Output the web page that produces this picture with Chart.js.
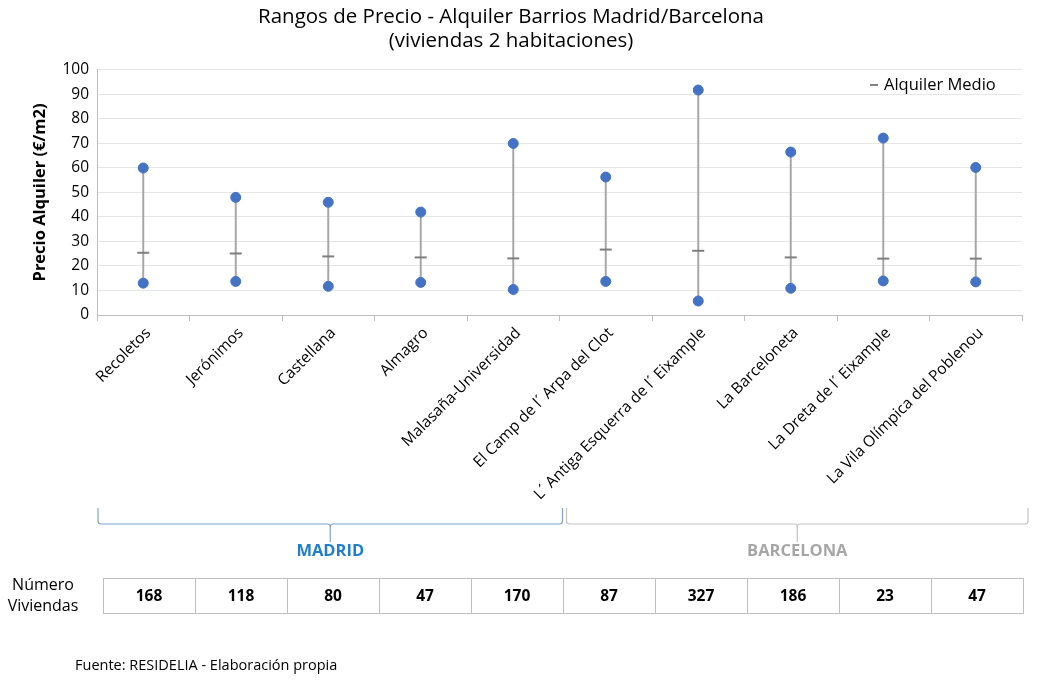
<!DOCTYPE html>
<html lang="es">
<head>
<meta charset="utf-8">
<script src="https://cdn.jsdelivr.net/npm/chart.js@4.4.1/dist/chart.umd.min.js"></script>
<style>
  html, body { margin: 0; padding: 0; background: #fff; }
  #wrap { width: 1038px; height: 682px; }
</style>
</head>
<body>
<div id="wrap"><canvas id="chart" width="1038" height="682"></canvas></div>
<script>
'use strict';

const barrios = ['Recoletos', 'Jerónimos', 'Castellana', 'Almagro', 'Malasaña-Universidad',
  'El Camp de l´ Arpa del Clot', 'L´ Antiga Esquerra de l´ Eixample', 'La Barceloneta',
  'La Dreta de l´ Eixample', 'La Vila Olímpica del Poblenou'];
const precioMax = [60, 48, 46, 42, 70, 56.3, 91.8, 66.5, 72.2, 60.2];
const precioMin = [13, 13.7, 11.7, 13.3, 10.4, 13.7, 5.7, 10.9, 13.9, 13.5];
const alquilerMedio = [25.4, 25.1, 23.9, 23.5, 23.1, 26.7, 26.2, 23.5, 23.0, 23.0];
const numViviendas = [168, 118, 80, 47, 170, 87, 327, 186, 23, 47];
const grupos = ['MADRID', 'BARCELONA'];
const grupoInicio = [0, 5];
const grupoFin = [4, 9];

const FONT = '"Open Sans", sans-serif';
const BLUE = '#4472c4';
const GREY = '#7f7f7f';

// legend, bracket, group names, table and source
const extras = {
  id: 'extras',
  afterDraw(chart) {
    const { ctx, chartArea } = chart;
    const x = chart.scales.x;
    const n = barrios.length;
    const step = (x.right - x.left) / n;
    const bracketCol = ['#7fa3d1', '#c4c4c4'];
    const textCol = ['#1f7fce', '#a6a6a6'];
    ctx.save();

    // legend (single entry)
    const ds = chart.data.datasets[3];
    ctx.strokeStyle = ds.pointBorderColor;
    ctx.lineWidth = 2;
    ctx.beginPath();
    ctx.moveTo(chartArea.right - 152, chartArea.top + 15);
    ctx.lineTo(chartArea.right - 144, chartArea.top + 15);
    ctx.stroke();
    ctx.fillStyle = '#000';
    ctx.font = '16.5px ' + FONT;
    ctx.textAlign = 'left';
    ctx.textBaseline = 'middle';
    ctx.fillText(ds.label, chartArea.right - 138, chartArea.top + 15);

    grupos.forEach((g, k) => {
      const x0 = x.left + step * grupoInicio[k] + (k ? 7 : 1);
      const x1 = x.left + step * (grupoFin[k] + 1) + (k ? 6 : 3);
      const xc = (x0 + x1) / 2;
      const yTop = 508, yBar = 524, yTip = 542, r = 3;
      ctx.strokeStyle = bracketCol[k];
      ctx.lineWidth = 1.2;
      ctx.beginPath();
      ctx.moveTo(x0, yTop);
      ctx.lineTo(x0, yBar - r);
      ctx.quadraticCurveTo(x0, yBar, x0 + r, yBar);
      ctx.lineTo(xc - r, yBar);
      ctx.quadraticCurveTo(xc, yBar, xc, yBar + r);
      ctx.lineTo(xc, yTip);
      ctx.moveTo(xc, yBar + r);
      ctx.quadraticCurveTo(xc, yBar, xc + r, yBar);
      ctx.lineTo(x1 - r, yBar);
      ctx.quadraticCurveTo(x1, yBar, x1, yBar - r);
      ctx.lineTo(x1, yTop);
      ctx.stroke();

      ctx.fillStyle = textCol[k];
      ctx.font = 'bold 16.5px ' + FONT;
      ctx.textAlign = 'center';
      ctx.textBaseline = 'middle';
      ctx.fillText(g, xc, 551);
    });

    // Número Viviendas table
    const tLeft = x.left + 6;
    const cellW = (x.right - x.left - 5) / n;
    const tTop = 578, tH = 35;
    ctx.strokeStyle = '#bfbfbf';
    ctx.lineWidth = 1;
    ctx.strokeRect(tLeft + 0.5, tTop + 0.5, cellW * n, tH);
    for (let i = 1; i < n; i++) {
      const cx = Math.round(tLeft + cellW * i) + 0.5;
      ctx.beginPath();
      ctx.moveTo(cx, tTop);
      ctx.lineTo(cx, tTop + tH);
      ctx.stroke();
    }
    ctx.fillStyle = '#000';
    ctx.font = 'bold 15.5px ' + FONT;
    ctx.textAlign = 'center';
    ctx.textBaseline = 'middle';
    numViviendas.forEach((v, i) => ctx.fillText(String(v), tLeft + cellW * (i + 0.5), tTop + tH / 2 + 1));

    ctx.font = '16px ' + FONT;
    ctx.fillText('Número', 43, 585);
    ctx.fillText('Viviendas', 43, 606);

    ctx.font = '14.5px ' + FONT;
    ctx.textAlign = 'left';
    ctx.fillText('Fuente: RESIDELIA - Elaboración propia', 75, 666);
    ctx.restore();
  }
};

new Chart(document.getElementById('chart'), {
  data: {
    labels: barrios,
    datasets: [
      {
        type: 'bar',
        label: 'Rango',
        data: barrios.map((_, i) => [precioMin[i], precioMax[i]]),
        backgroundColor: '#a6a6a6',
        barThickness: 1.3,
        order: 3,
      },
      {
        type: 'line',
        label: 'Máximo',
        data: precioMax,
        showLine: false,
        pointRadius: 5,
        pointBackgroundColor: BLUE,
        pointBorderColor: BLUE,
        order: 1,
      },
      {
        type: 'line',
        label: 'Mínimo',
        data: precioMin,
        showLine: false,
        pointRadius: 5,
        pointBackgroundColor: BLUE,
        pointBorderColor: BLUE,
        order: 1,
      },
      {
        type: 'line',
        label: 'Alquiler Medio',
        data: alquilerMedio,
        showLine: false,
        pointStyle: 'line',
        pointRadius: 6,
        pointBorderWidth: 2,
        pointBorderColor: GREY,
        borderColor: GREY,
        order: 2,
      },
    ],
  },
  options: {
    responsive: false,
    animation: false,
    layout: { padding: { top: 0, right: 16, bottom: 177, left: 0 } },
    plugins: {
      tooltip: { enabled: false },
      legend: { display: false },
      title: {
        display: true,
        text: ['Rangos de Precio - Alquiler Barrios Madrid/Barcelona', '(viviendas 2 habitaciones)'],
        color: '#000',
        font: { family: FONT, size: 20.5, weight: 'normal', lineHeight: 1.17 },
        padding: { top: 5, bottom: 17 },
      },
    },
    scales: {
      x: {
        type: 'category',
        offset: true,
        afterFit: s => { s.height = 190; },
        grid: { offset: true, drawOnChartArea: false, drawTicks: true, tickLength: 6, color: '#bfbfbf' },
        border: { color: '#bfbfbf' },
        ticks: {
          color: '#000',
          font: { family: FONT, size: 15.5 },
          minRotation: 45,
          maxRotation: 45,
          autoSkip: false,
          padding: 3,
          labelOffset: 5,
        },
      },
      y: {
        min: 0,
        max: 100,
        afterFit: s => { s.width = 97; },
        title: {
          display: true,
          text: 'Precio Alquiler (€/m2)',
          color: '#000',
          font: { family: FONT, size: 16.5, weight: 'bold' },
          padding: { top: 30, bottom: 0 },
        },
        grid: { color: '#e6e6e6', drawTicks: false },
        border: { color: '#bfbfbf' },
        ticks: {
          stepSize: 10,
          color: '#000',
          font: { family: FONT, size: 15.5 },
          padding: 8,
        },
      },
    },
  },
  plugins: [extras],
});
</script>
</body>
</html>
